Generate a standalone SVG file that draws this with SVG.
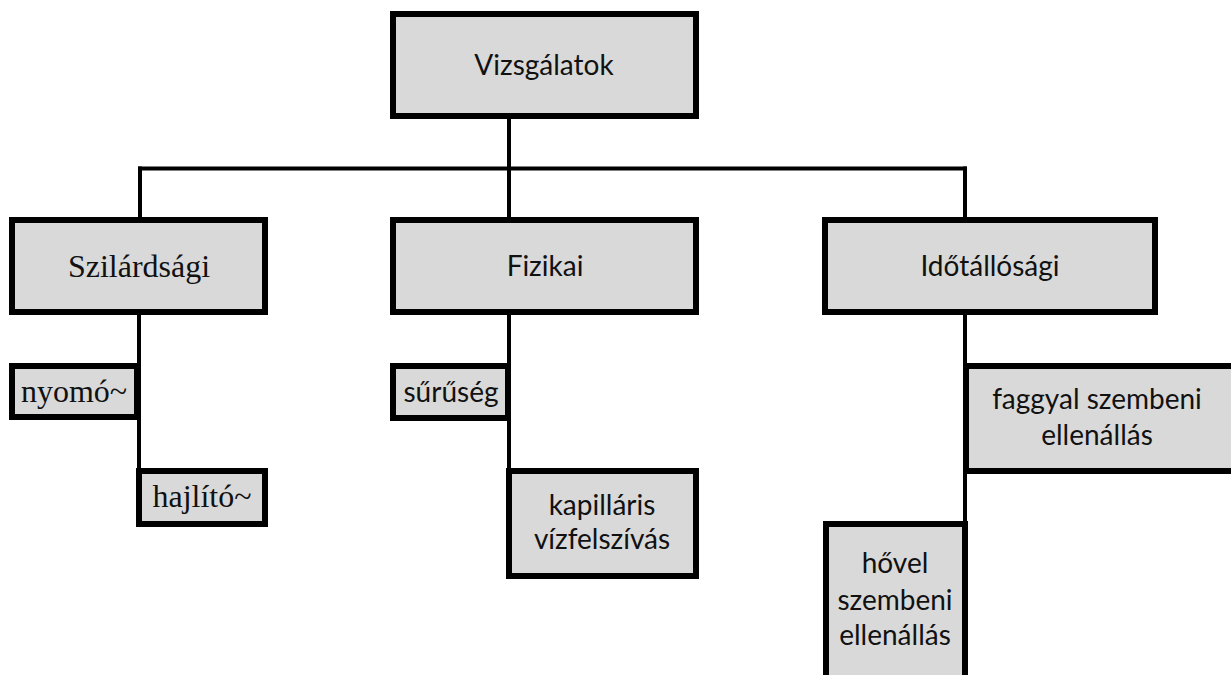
<svg xmlns="http://www.w3.org/2000/svg" width="1231" height="675" viewBox="0 0 1231 675">
<style>
.box{fill:#d9d9d9;stroke:#000;stroke-width:6}
.c{font-family:Lato,"Open Sans",sans-serif;font-size:28px;fill:#111;text-anchor:middle}
.s{font-family:"Liberation Serif","Times New Roman",serif;font-size:32px;fill:#111;text-anchor:middle}
.ln{stroke:#000;stroke-width:4;fill:none}
</style>
<rect width="1231" height="675" fill="#fff"/>
<g id="connectors">
<line class="ln" x1="509" y1="119" x2="509" y2="217"/>
<line class="ln" x1="138" y1="168.5" x2="967" y2="168.5"/>
<line class="ln" x1="140" y1="166.5" x2="140" y2="217"/>
<line class="ln" x1="965" y1="166.5" x2="965" y2="217"/>
<line class="ln" x1="139" y1="315" x2="139" y2="468"/>
<line class="ln" x1="509" y1="315" x2="509" y2="468"/>
<line class="ln" x1="965" y1="315" x2="965" y2="363"/>
<line class="ln" x1="965" y1="474" x2="965" y2="521"/>
</g>
<g id="vizsgalatok">
<rect class="box" x="393" y="14" width="303" height="102"/>
<text class="c" x="544" y="75">Vizsgálatok</text>
</g>
<g id="szilardsagi">
<rect class="box" x="12" y="220" width="253" height="92"/>
<text class="s" x="139" y="277">Szilárdsági</text>
</g>
<g id="fizikai">
<rect class="box" x="393" y="220" width="303" height="92"/>
<text class="c" x="545" y="276">Fizikai</text>
</g>
<g id="idotallosagi">
<rect class="box" x="825" y="220" width="330" height="92"/>
<text class="c" x="990" y="276">Időtállósági</text>
</g>
<g id="nyomo">
<rect class="box" x="12" y="366" width="125" height="51"/>
<text class="s" x="74" y="402">nyomó~</text>
</g>
<g id="hajlito">
<rect class="box" x="139" y="471" width="126" height="53"/>
<text class="s" x="202" y="507">hajlító~</text>
</g>
<g id="suruseg">
<rect class="box" x="393" y="366" width="115" height="52"/>
<text class="c" x="451" y="402">sűrűség</text>
</g>
<g id="kapillaris">
<rect class="box" x="509" y="471" width="187" height="105"/>
<text class="c" x="602" y="515">kapilláris</text>
<text class="c" x="602" y="549">vízfelszívás</text>
</g>
<g id="faggyal">
<rect class="box" x="966" y="366" width="268" height="105"/>
<text class="c" x="1097" y="409">faggyal szembeni</text>
<text class="c" x="1097" y="445">ellenállás</text>
</g>
<g id="hovel">
<rect class="box" x="826" y="524" width="139" height="200"/>
<text class="c" x="895" y="573">hővel</text>
<text class="c" x="895" y="610">szembeni</text>
<text class="c" x="895" y="645">ellenállás</text>
</g>
</svg>
